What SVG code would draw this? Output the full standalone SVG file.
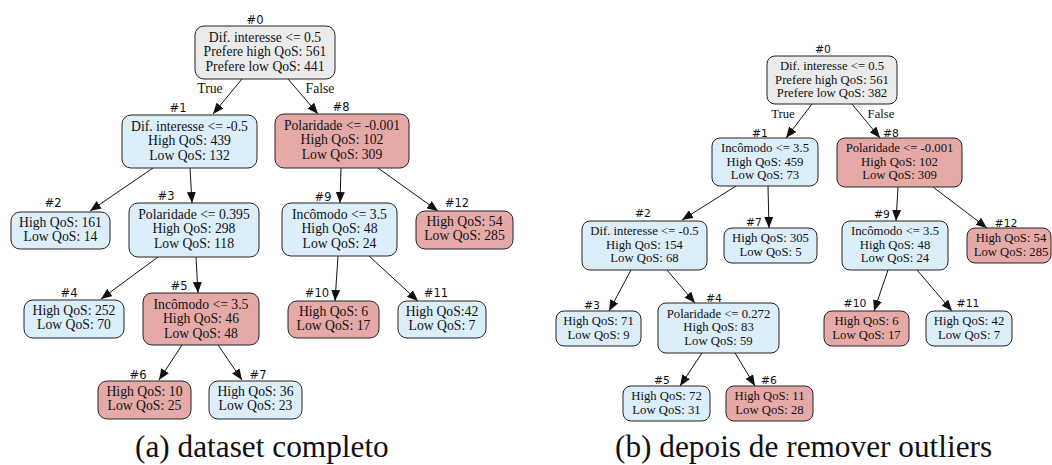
<svg xmlns="http://www.w3.org/2000/svg" width="1052" height="465" viewBox="0 0 1052 465">
<style>
.b{fill:#dbeef9;stroke:#222;stroke-width:1}
.p{fill:#e5a9a8;stroke:#222;stroke-width:1}
.g{fill:#ebebeb;stroke:#222;stroke-width:1}
.ta{font-family:"Liberation Serif","Times New Roman",serif;font-size:13.7px;fill:#111;text-anchor:middle}
.tb{font-family:"Liberation Serif","Times New Roman",serif;font-size:12.7px;fill:#111;text-anchor:middle}
.la{font-family:"DejaVu Sans",sans-serif;font-size:11.5px;fill:#111;text-anchor:middle}
.lb{font-family:"DejaVu Sans",sans-serif;font-size:10.8px;fill:#111;text-anchor:middle}
.cap{font-family:"Liberation Serif","Times New Roman",serif;font-size:31.3px;fill:#111}
.e{stroke:#111;stroke-width:1;fill:none;marker-end:url(#ah)}
</style>
<defs>
<marker id="ah" markerUnits="userSpaceOnUse" markerWidth="11" markerHeight="9" refX="11" refY="4.5" orient="auto">
<path d="M0,0 L11,4.5 L0,9 z" fill="#111"/>
</marker>
</defs>
<rect width="1052" height="465" fill="#fff"/>

<g id="connectors">
<line class="e" x1="242" y1="79" x2="213" y2="114"/>
<line class="e" x1="288" y1="79" x2="318" y2="114"/>
<line class="e" x1="153" y1="168" x2="90" y2="211"/>
<line class="e" x1="190" y1="168" x2="192" y2="203"/>
<line class="e" x1="158" y1="257" x2="101" y2="299"/>
<line class="e" x1="196" y1="257" x2="198" y2="293"/>
<line class="e" x1="182" y1="345" x2="159" y2="380"/>
<line class="e" x1="218" y1="345" x2="242" y2="380"/>
<line class="e" x1="341" y1="168" x2="340" y2="203"/>
<line class="e" x1="378" y1="168" x2="438" y2="211"/>
<line class="e" x1="338" y1="256" x2="335" y2="301"/>
<line class="e" x1="369" y1="256" x2="418" y2="301"/>
<line class="e" x1="812" y1="104" x2="786" y2="138"/>
<line class="e" x1="852" y1="104" x2="880" y2="138"/>
<line class="e" x1="736" y1="186" x2="682" y2="220"/>
<line class="e" x1="768" y1="186" x2="769" y2="228"/>
<line class="e" x1="898" y1="187" x2="896" y2="221"/>
<line class="e" x1="933" y1="187" x2="987" y2="228"/>
<line class="e" x1="631" y1="270" x2="609" y2="311"/>
<line class="e" x1="667" y1="270" x2="695" y2="303"/>
<line class="e" x1="702" y1="353" x2="680" y2="386"/>
<line class="e" x1="735" y1="353" x2="755" y2="386"/>
<line class="e" x1="888" y1="270" x2="874" y2="311"/>
<line class="e" x1="917" y1="270" x2="952" y2="311"/>
<text class="ta" x="210" y="93">True</text>
<text class="ta" x="320" y="93">False</text>
<text class="tb" x="783" y="118">True</text>
<text class="tb" x="881" y="118">False</text>
</g>

<g id="a0">
<text class="la" x="255" y="24">#0</text>
<rect class="g" x="195" y="26" width="140" height="53" rx="9"/>
<text class="ta" x="265" y="41.5">Dif. interesse &lt;= 0.5</text>
<text class="ta" x="265" y="56">Prefere high QoS: 561</text>
<text class="ta" x="265" y="70.5">Prefere low QoS: 441</text>
</g>
<g id="a1">
<text class="la" x="178" y="112">#1</text>
<rect class="b" x="122" y="115" width="135" height="53" rx="9"/>
<text class="ta" x="189.5" y="130.5">Dif. interesse &lt;= -0.5</text>
<text class="ta" x="189.5" y="145">High QoS: 439</text>
<text class="ta" x="189.5" y="159.5">Low QoS: 132</text>
</g>
<g id="a8">
<text class="la" x="341" y="111">#8</text>
<rect class="p" x="275" y="114" width="134" height="54" rx="9"/>
<text class="ta" x="342" y="129.5">Polaridade &lt;= -0.001</text>
<text class="ta" x="342" y="144">High QoS: 102</text>
<text class="ta" x="342" y="158.5">Low QoS: 309</text>
</g>
<g id="a2">
<text class="la" x="53" y="207">#2</text>
<rect class="b" x="11" y="212" width="99" height="37" rx="9"/>
<text class="ta" x="60.5" y="226.5">High QoS: 161</text>
<text class="ta" x="60.5" y="241">Low QoS: 14</text>
</g>
<g id="a3">
<text class="la" x="166" y="200">#3</text>
<rect class="b" x="129" y="203" width="130" height="54" rx="9"/>
<text class="ta" x="194" y="218.5">Polaridade &lt;= 0.395</text>
<text class="ta" x="194" y="233">High QoS: 298</text>
<text class="ta" x="194" y="247.5">Low QoS: 118</text>
</g>
<g id="a9">
<text class="la" x="323" y="201">#9</text>
<rect class="b" x="282" y="203" width="115" height="53" rx="9"/>
<text class="ta" x="339.5" y="218.5">Incômodo &lt;= 3.5</text>
<text class="ta" x="339.5" y="233">High QoS: 48</text>
<text class="ta" x="339.5" y="247.5">Low QoS: 24</text>
</g>
<g id="a12">
<text class="la" x="457" y="207">#12</text>
<rect class="p" x="416" y="211" width="97" height="38" rx="9"/>
<text class="ta" x="464.5" y="225.5">High QoS: 54</text>
<text class="ta" x="464.5" y="240">Low QoS: 285</text>
</g>
<g id="a4">
<text class="la" x="69" y="297">#4</text>
<rect class="b" x="24" y="300" width="100" height="38" rx="9"/>
<text class="ta" x="74" y="314.5">High QoS: 252</text>
<text class="ta" x="74" y="329">Low QoS: 70</text>
</g>
<g id="a5">
<text class="la" x="179" y="290">#5</text>
<rect class="p" x="143" y="293" width="116" height="52" rx="9"/>
<text class="ta" x="201" y="308.5">Incômodo &lt;= 3.5</text>
<text class="ta" x="201" y="323">High QoS: 46</text>
<text class="ta" x="201" y="337.5">Low QoS: 48</text>
</g>
<g id="a10">
<text class="la" x="317" y="297">#10</text>
<rect class="p" x="288" y="301" width="91" height="37" rx="9"/>
<text class="ta" x="333.5" y="315.5">High QoS: 6</text>
<text class="ta" x="333.5" y="330">Low QoS: 17</text>
</g>
<g id="a11">
<text class="la" x="436" y="297">#11</text>
<rect class="b" x="398" y="301" width="88" height="37" rx="9"/>
<text class="ta" x="442" y="315.5">High QoS:42</text>
<text class="ta" x="442" y="330">Low QoS: 7</text>
</g>
<g id="a6">
<text class="la" x="138" y="379">#6</text>
<rect class="p" x="98" y="381" width="93" height="38" rx="9"/>
<text class="ta" x="144.5" y="395.5">High QoS: 10</text>
<text class="ta" x="144.5" y="410">Low QoS: 25</text>
</g>
<g id="a7">
<text class="la" x="258" y="379">#7</text>
<rect class="b" x="209" y="381" width="93" height="38" rx="9"/>
<text class="ta" x="255.5" y="395.5">High QoS: 36</text>
<text class="ta" x="255.5" y="410">Low QoS: 23</text>
</g>

<g id="b0">
<text class="lb" x="823" y="53">#0</text>
<rect class="g" x="767" y="56" width="130" height="48" rx="8"/>
<text class="tb" x="832" y="70">Dif. interesse &lt;= 0.5</text>
<text class="tb" x="832" y="83.5">Prefere high QoS: 561</text>
<text class="tb" x="832" y="97">Prefere low QoS: 382</text>
</g>
<g id="b1">
<text class="lb" x="760" y="137">#1</text>
<rect class="b" x="712" y="138" width="106" height="48" rx="8"/>
<text class="tb" x="765" y="152">Incômodo &lt;= 3.5</text>
<text class="tb" x="765" y="165.5">High QoS: 459</text>
<text class="tb" x="765" y="179">Low QoS: 73</text>
</g>
<g id="b8">
<text class="lb" x="891" y="137">#8</text>
<rect class="p" x="837" y="138" width="125" height="49" rx="8"/>
<text class="tb" x="899.5" y="152">Polaridade &lt;= -0.001</text>
<text class="tb" x="899.5" y="165.5">High QoS: 102</text>
<text class="tb" x="899.5" y="179">Low QoS: 309</text>
</g>
<g id="b2">
<text class="lb" x="643" y="217">#2</text>
<rect class="b" x="582" y="221" width="125" height="49" rx="8"/>
<text class="tb" x="644.5" y="235">Dif. interesse &lt;= -0.5</text>
<text class="tb" x="644.5" y="248.5">High QoS: 154</text>
<text class="tb" x="644.5" y="262">Low QoS: 68</text>
</g>
<g id="b7">
<text class="lb" x="754" y="226">#7</text>
<rect class="b" x="724" y="228" width="93" height="35" rx="8"/>
<text class="tb" x="770.5" y="242">High QoS: 305</text>
<text class="tb" x="770.5" y="256">Low QoS: 5</text>
</g>
<g id="b9">
<text class="lb" x="882" y="218">#9</text>
<rect class="b" x="842" y="221" width="106" height="49" rx="8"/>
<text class="tb" x="895" y="235">Incômodo &lt;= 3.5</text>
<text class="tb" x="895" y="248.5">High QoS: 48</text>
<text class="tb" x="895" y="262">Low QoS: 24</text>
</g>
<g id="b12">
<text class="lb" x="1006" y="227">#12</text>
<rect class="p" x="967" y="228" width="84" height="35" rx="8"/>
<text class="tb" x="1011" y="242">High QoS: 54</text>
<text class="tb" x="1011" y="256">Low QoS: 285</text>
</g>
<g id="b3">
<text class="lb" x="592" y="309">#3</text>
<rect class="b" x="556" y="311" width="85" height="35" rx="8"/>
<text class="tb" x="598.5" y="325">High QoS: 71</text>
<text class="tb" x="598.5" y="339">Low QoS: 9</text>
</g>
<g id="b4">
<text class="lb" x="714" y="302">#4</text>
<rect class="b" x="658" y="303" width="121" height="50" rx="8"/>
<text class="tb" x="718.5" y="317.5">Polaridade &lt;= 0.272</text>
<text class="tb" x="718.5" y="331">High QoS: 83</text>
<text class="tb" x="718.5" y="344.5">Low QoS: 59</text>
</g>
<g id="b10">
<text class="lb" x="855" y="307">#10</text>
<rect class="p" x="824" y="311" width="85" height="35" rx="8"/>
<text class="tb" x="866.5" y="325">High QoS: 6</text>
<text class="tb" x="866.5" y="339">Low QoS: 17</text>
</g>
<g id="b11">
<text class="lb" x="968" y="307">#11</text>
<rect class="b" x="926" y="311" width="86" height="35" rx="8"/>
<text class="tb" x="969" y="325">High QoS: 42</text>
<text class="tb" x="969" y="339">Low QoS: 7</text>
</g>
<g id="b5">
<text class="lb" x="662" y="384">#5</text>
<rect class="b" x="623" y="386" width="87" height="35" rx="8"/>
<text class="tb" x="666.5" y="400">High QoS: 72</text>
<text class="tb" x="666.5" y="414">Low QoS: 31</text>
</g>
<g id="b6">
<text class="lb" x="769" y="384">#6</text>
<rect class="p" x="726" y="386" width="87" height="35" rx="8"/>
<text class="tb" x="769.5" y="400">High QoS: 11</text>
<text class="tb" x="769.5" y="414">Low QoS: 28</text>
</g>

<g id="captions">
<text class="cap" x="135" y="457">(a) dataset completo</text>
<text class="cap" x="615" y="457">(b) depois de remover outliers</text>
</g>
</svg>
